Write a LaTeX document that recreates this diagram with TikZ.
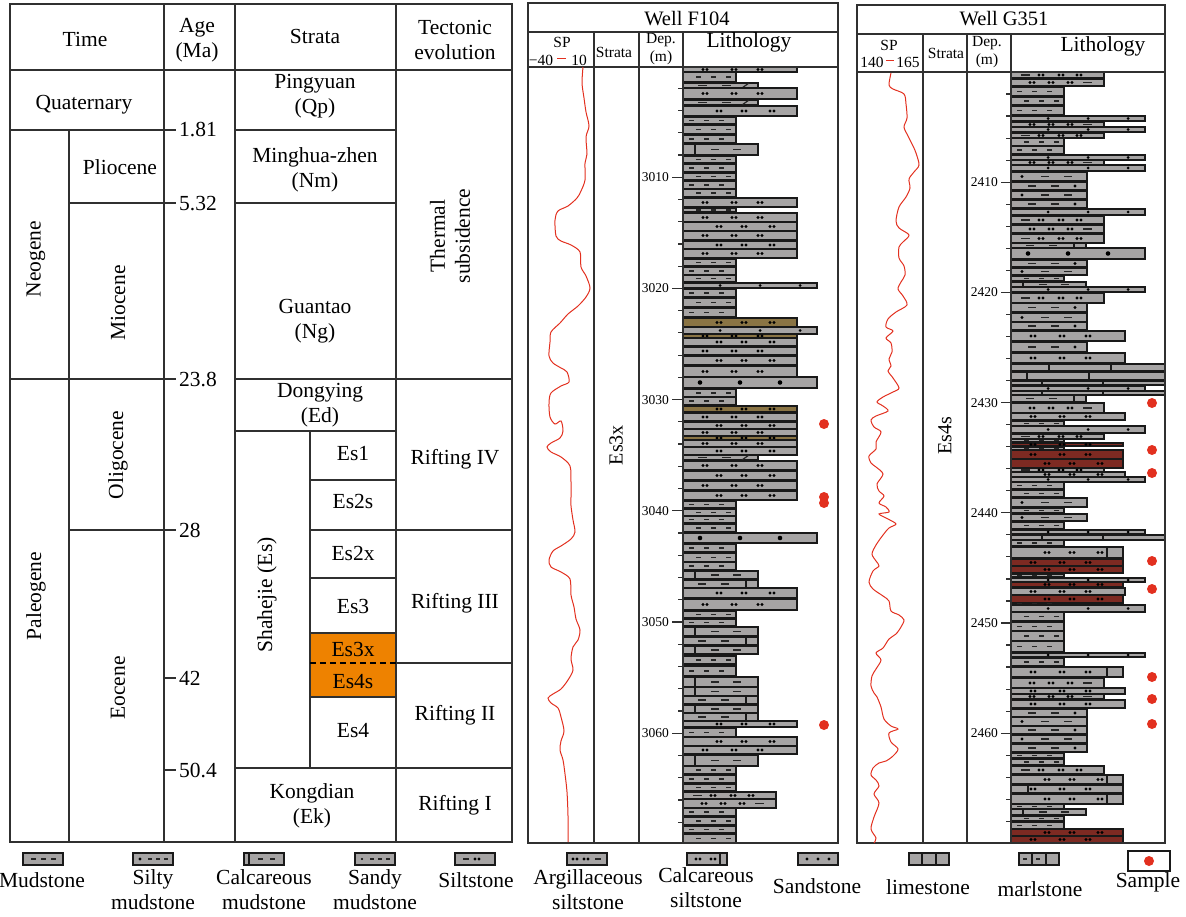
\documentclass[tikz,border=0pt]{standalone}
\usepackage{fontspec}
\setmainfont{Liberation Serif}
\definecolor{lg}{HTML}{A6A4A4}
\definecolor{brn}{HTML}{8A7444}
\definecolor{rdb}{HTML}{7D2A22}
\definecolor{orng}{HTML}{EE8200}
\definecolor{spr}{HTML}{E2301F}
\definecolor{ln}{HTML}{303030}
\tikzset{
 grid/.style={draw=ln, line width=1.2pt},
 litho/.style={draw=black!90, line width=1.3pt},
 pat/.style={draw=black!85, line width=1.2pt},
 big/.style={font=\fontsize{21.5}{25}\selectfont, align=center, inner sep=0pt},
 mid/.style={font=\fontsize{15.5}{18}\selectfont, align=center, inner sep=0pt},
 sm/.style={font=\fontsize{13.5}{15}\selectfont, inner sep=0pt},
 spc/.style={draw=spr, line width=1pt},
}
\newcount\altc
\newcommand\bx[4]{\draw[litho,fill=#4] (\X,#1) rectangle ({\X+#3},#2);}
\newcommand\dsh[3]{\draw[pat] ({\X+#1},#3) -- ({\X+#1+#2},#3);}
\newcommand\dpair[2]{\fill ({\X+#1},#2) circle (1.6) ({\X+#1+4},#2) circle (1.6);}
\newcommand\vl[3]{\draw[litho] ({\X+#1},#2) -- ({\X+#1},#3);}
\newcommand\ymid[2]{\pgfmathsetmacro\ym{(#1+#2)/2}}
\newcommand\LMu[2]{\global\advance\altc by 1 \ymid{#1}{#2}\bx{#1}{#2}{53}{lg}%
 \ifodd\altc \dsh{6}{5}{\ym}\dsh{21}{5}{\ym}\dsh{36}{5}{\ym}\else\dsh{13}{5}{\ym}\dsh{28}{5}{\ym}\dsh{43}{5}{\ym}\fi}
\newcommand\siltpat[1]{\ifodd\altc \dpair{20}{#1}\dpair{49}{#1}\dpair{75}{#1}\else\dpair{34}{#1}\dpair{59}{#1}\dpair{87}{#1}\fi}
\newcommand\LSi[2]{\global\advance\altc by 1 \ymid{#1}{#2}\bx{#1}{#2}{114}{lg}\siltpat{\ym}}
\newcommand\LBr[2]{\global\advance\altc by 1 \ymid{#1}{#2}\bx{#1}{#2}{114}{brn}\siltpat{\ym}}
\newcommand\LRd[2]{\global\advance\altc by 1 \ymid{#1}{#2}\bx{#1}{#2}{112}{rdb}\siltpat{\ym}}
\newcommand\LQr[2]{\global\advance\altc by 1 \ymid{#1}{#2}\bx{#1}{#2}{112}{lg}\vl{96}{#1}{#2}\siltpat{\ym}}
\newcommand\LQl[2]{\global\advance\altc by 1 \ymid{#1}{#2}\bx{#1}{#2}{112}{lg}\vl{17}{#1}{#2}\siltpat{\ym}}
\newcommand\LCl[2]{\ymid{#1}{#2}\bx{#1}{#2}{75}{lg}\vl{12}{#1}{#2}\dsh{28}{8}{\ym}\dsh{50}{8}{\ym}}
\newcommand\LCr[2]{\ymid{#1}{#2}\bx{#1}{#2}{75}{lg}\vl{63}{#1}{#2}\dsh{15}{8}{\ym}\dsh{38}{8}{\ym}}
\newcommand\LTc[2]{\ymid{#1}{#2}\bx{#1}{#2}{75}{lg}\dsh{15}{9}{\ym}\dsh{39}{9}{\ym}\draw[pat] ({\X+59},#2) -- ({\X+66},#1);}
\newcommand\LSd[2]{\pgfmathtruncatemacro\hh{#2-#1}\ymid{#1}{#2}\bx{#1}{#2}{134}{lg}%
 \ifnum\hh>8 \fill ({\X+17},\ym) circle (2.3) ({\X+57},\ym) circle (2.3) ({\X+97},\ym) circle (2.3);%
 \else \fill ({\X+37},\ym) circle (1.5) ({\X+77},\ym) circle (1.5) ({\X+117},\ym) circle (1.5);\fi}
\newcommand\LAr[2]{\global\advance\altc by 1 \ymid{#1}{#2}\bx{#1}{#2}{93}{lg}%
 \ifodd\altc \dsh{10}{9}{\ym}\dpair{28}{\ym}\dpair{48}{\ym}\dpair{66}{\ym}\else\dpair{19}{\ym}\dpair{38}{\ym}\dpair{57}{\ym}\dsh{72}{9}{\ym}\fi}
\newcommand\LSm[2]{\global\advance\altc by 1 \ymid{#1}{#2}\bx{#1}{#2}{76}{lg}%
 \ifodd\altc \fill ({\X+11},\ym) circle (1.6); \dsh{30}{8}{\ym}\dsh{53}{8}{\ym}\else\dsh{17}{8}{\ym}\dsh{40}{8}{\ym}\fill ({\X+64},\ym) circle (1.6);\fi}
\newcommand\LLiA[2]{\bx{#1}{#2}{154}{lg}\vl{38}{#1}{#2}\vl{100}{#1}{#2}}
\newcommand\LLiB[2]{\bx{#1}{#2}{154}{lg}\vl{16}{#1}{#2}\vl{78}{#1}{#2}}
\newcommand\LLiC[2]{\bx{#1}{#2}{154}{lg}\vl{31}{#1}{#2}\vl{92}{#1}{#2}}
\begin{document}
\begin{tikzpicture}[x=1pt,y=-1pt]
\useasboundingbox (0,0) rectangle (1186,917);
% ---------------- left table
\fill[orng] (310,633) rectangle (396,697);
\draw[grid] (10,4) rectangle (512,842);
\draw[grid] (10,70) -- (512,70);
\draw[grid] (164,4) -- (164,842);
\draw[grid] (235,4) -- (235,842);
\draw[grid] (396,4) -- (396,842);
\draw[grid] (69,130) -- (69,842);
\draw[grid] (10,130) -- (176,130);
\draw[grid] (69,203) -- (176,203);
\draw[grid] (10,379) -- (176,379);
\draw[grid] (69,530) -- (176,530);
\draw[grid] (164,678) -- (176,678);
\draw[grid] (164,770) -- (176,770);
\draw[grid] (235,130) -- (396,130);
\draw[grid] (235,203) -- (396,203);
\draw[grid] (235,379) -- (512,379);
\draw[grid] (235,431) -- (396,431);
\draw[grid] (310,431) -- (310,768);
\draw[grid] (310,480) -- (396,480);
\draw[grid] (310,530) -- (512,530);
\draw[grid] (310,578) -- (396,578);
\draw[grid] (310,633) rectangle (396,697);
\draw[black, line width=2.6pt, dash pattern=on 6pt off 4pt] (310,663) -- (396,663);
\draw[grid] (396,663) -- (512,663);
\draw[grid] (235,768) -- (512,768);
\node[big] (hTime) at (85,39) {Time};
\node[big] (hAge) at (197,40) {Age\\(Ma)};
\node[big] (hStrata) at (315,36) {Strata};
\node[big] (hTect) at (455,40) {Tectonic\\evolution};
\node[big] (quat) at (84,105) {Quaternary};
\node[big,rotate=90] (neog) at (36,259) {Neogene};
\node[big] (plio) at (120,167) {Pliocene};
\node[big,rotate=90] (mio) at (118,303) {Miocene};
\node[big,rotate=90] (paleo) at (36,596) {Paleogene};
\node[big,rotate=90] (oligo) at (118,455) {Oligocene};
\node[big,rotate=90] (eoc) at (118,688) {Eocene};
\node[big,anchor=west] (a1) at (179,130) {1.81};
\node[big,anchor=west] (a2) at (179,204) {5.32};
\node[big,anchor=west] (a3) at (179,380) {23.8};
\node[big,anchor=west] (a4) at (179,530) {28};
\node[big,anchor=west] (a5) at (179,678) {42};
\node[big,anchor=west] (a6) at (179,770) {50.4};
\node[big] (sQp) at (315,96) {Pingyuan\\(Qp)};
\node[big] (sNm) at (315,170) {Minghua-zhen\\(Nm)};
\node[big] (sNg) at (315,321) {Guantao\\(Ng)};
\node[big] (sEd) at (320,405) {Dongying\\(Ed)};
\node[big,rotate=90] (sEs) at (267,595) {Shahejie (Es)};
\node[big] (e1) at (353,454) {Es1};
\node[big] (e2s) at (353,501) {Es2s};
\node[big] (e2x) at (353,553) {Es2x};
\node[big] (e3) at (353,606) {Es3};
\node[big] (e3x) at (353,649) {Es3x};
\node[big] (e4s) at (353,682) {Es4s};
\node[big] (e4) at (353,731) {Es4};
\node[big] (sEk) at (312,806) {Kongdian\\(Ek)};
\node[big,rotate=90] (therm) at (450,236) {Thermal\\subsidence};
\node[big] (r4) at (455,459) {Rifting IV};
\node[big] (r3) at (455,603) {Rifting III};
\node[big] (r2) at (455,715) {Rifting II};
\node[big] (r1) at (455,805) {Rifting I};
% ---------------- Well F104
\def\X{683}
\foreach \a/\b/\t in {67/72/Si,72/82/Mu,83/88/Tc,88/99/Si,100/105/Tc,106/116/Si,117/124/Mu,125/134/Mu,135/143/Mu,144/155/Cl,156/163/Mu,164/172/Mu,173/180/Mu,181/189/Mu,189/197/Mu,198/207/Si,208/212/Mu,213/222/Si,222/231/Si,231/240/Si,241/249/Si,249/258/Si,259/266/Mu,267/275/Mu,275/282/Mu,283/288/Sd,289/297/Mu,298/307/Mu,308/317/Mu,318/327/Br,327/334/Sd,334/338/Br,338/346/Si,347/355/Si,356/365/Si,366/377/Si,377/388/Sd,389/397/Mu,397/405/Mu,406/412/Br,413/421/Si,422/429/Si,429/436/Si,436/440/Br,440/447/Si,447/455/Si,455/460/Tc,461/470/Si,471/480/Si,481/490/Si,491/500/Si,501/508/Mu,509/516/Mu,516/523/Mu,524/532/Mu,533/543/Sd,544/552/Mu,553/562/Mu,562/570/Mu,571/579/Cl,580/588/Cr,588/598/Si,599/610/Si,611/618/Mu,619/626/Mu,627/636/Cl,637/645/Cr,646/654/Cl,656/664/Mu,666/676/Mu,677/687/Cl,687/696/Cl,696/704/Cr,705/713/Cl,713/721/Cr,721/727/Si,728/737/Mu,737/746/Si,746/754/Si,755/766/Cl,766/774/Mu,775/783/Mu,784/791/Mu,792/799/Ar,799/808/Ar,808/816/Mu,817/825/Mu,826/833/Mu,834/843/Mu}{\csname L\t\endcsname{\a}{\b}}
\draw[grid] (528,3) rectangle (838,843);
\draw[grid] (528,32) -- (838,32);
\draw[grid] (528,67) -- (838,67);
\draw[grid] (594,32) -- (594,843);
\draw[grid] (639,32) -- (639,843);
\draw[grid] (683,32) -- (683,843);
\foreach \j in {1,...,34}{
 \pgfmathsetmacro\yy{66+22.24*\j}\pgfmathtruncatemacro\m{mod(\j,5)}
 \ifnum\m=0 \draw[grid] (672,\yy) -- (683,\yy);
  \node[sm,anchor=east] (fd\j) at (669,\yy) {\the\numexpr3000+2*\j\relax};
 \else \draw[grid] (678,\yy) -- (683,\yy); \fi}
\node[big,font=\fontsize{20.5}{24}\selectfont] (fT) at (687,19) {Well F104};
\node[mid] (fSP) at (562,42) {SP};
\node[mid] (fSPa) at (541,60) {−40};
\node[mid] (fSPb) at (579,60) {10};
\draw[spc] (fSPa.east) ++(4,-1) coordinate (fsa) -- ++(9,0) coordinate (fsb);
\node[mid] (fStr) at (614,52) {Strata};
\node[mid] (fDep) at (661,49) {Dep.\\(m)};
\node[big] (fLith) at (749,42) {Lithology};
\node[big,font=\fontsize{20}{24}\selectfont,rotate=90] (fEs) at (616,445) {Es3x};
\draw[spc] plot[smooth] coordinates {(583,67) (582,83) (584,98) (586,112) (589,126) (586,137) (587,154) (585,163) (585,180) (581,191) (577,198) (568,206) (558,211) (555,220) (556,236) (561,241) (571,245) (580,252) (581,267) (586,276) (590,288) (586,297) (578,306) (568,314) (560,323) (551,332) (550,342) (549,356) (553,363) (561,368) (567,372) (569,382) (561,386) (551,393) (549,403) (550,417) (555,424) (561,421) (563,431) (560,438) (551,443) (547,447) (551,452) (561,457) (570,466) (571,483) (571,497) (571,506) (573,520) (575,532) (571,539) (561,546) (553,551) (549,560) (551,567) (561,572) (570,579) (571,595) (574,607) (576,619) (580,630) (578,640) (573,647) (571,659) (573,670) (568,680) (561,689) (553,694) (548,698) (551,703) (558,708) (561,717) (564,731) (561,741) (560,750) (563,760) (565,774) (567,792) (568,816) (568,842)};
\foreach \s/\yy in {1/424,2/497,3/503,4/725}{\fill[spr] (824,\yy) circle (5) coordinate (fs\s);}
% ---------------- Well G351
\def\X{1011}
\foreach \a/\b/\t in {72/78/Ar,79/86/Ar,87/96/Mu,97/105/Mu,106/115/Mu,116/121/Sd,122/127/Ar,127/132/Sd,133/138/Ar,138/146/Mu,146/154/Mu,155/160/Sd,160/165/Ar,165/171/Sd,172/181/Sm,182/190/Sm,191/199/Sm,200/208/Sm,209/215/Sd,216/224/Ar,225/233/Ar,234/243/Ar,243/248/Cr,248/259/Sd,260/267/Sm,268/275/Sm,276/281/Mu,282/287/Cl,287/292/Sd,293/303/Ar,303/312/Sm,313/322/Sm,322/330/Sm,331/341/Si,342/352/Sm,353/363/Si,364/371/LiA,372/380/LiB,381/385/LiC,386/391/Sd,391/395/LiC,395/402/Cr,403/413/Ar,413/420/Si,421/426/Mu,426/433/Sd,434/439/Ar,439/442/Mu,443/446/Rd,447/450/Mu,450/459/Rd,459/468/Rd,468/472/Ar,472/477/Si,477/482/Sd,482/489/Mu,490/497/Mu,498/507/Sm,508/513/Mu,514/521/Sm,522/529/Mu,530/534/Sd,535/540/LiC,540/546/Mu,547/558/Qr,559/566/Rd,566/573/Rd,574/577/Mu,578/582/Sd,582/587/Rd,588/595/Si,595/603/Rd,603/605/Mu,605/612/Sd,612/621/Mu,622/631/Mu,631/641/Mu,641/652/Mu,653/657/Sd,658/666/Mu,667/677/Qr,678/688/Ar,688/694/Si,694/699/Ar,700/708/Si,709/717/Sm,717/726/Sm,726/734/Sm,735/743/Sm,744/752/Sm,753/758/Mu,759/765/Mu,766/774/Ar,775/784/Qr,785/793/Ql,794/804/Qr,804/809/Mu,809/815/Cl,816/821/Mu,822/829/Mu,829/836/Rd,836/843/Rd}{\csname L\t\endcsname{\a}{\b}}
\draw[grid] (857,5) rectangle (1165,843);
\draw[grid] (857,34) -- (1165,34);
\draw[grid] (857,72) -- (1165,72);
\draw[grid] (923,34) -- (923,843);
\draw[grid] (967,34) -- (967,843);
\draw[grid] (1011,34) -- (1011,843);
\foreach \j in {1,...,34}{
 \pgfmathsetmacro\yy{72+22.04*\j}\pgfmathtruncatemacro\m{mod(\j,5)}
 \ifnum\m=0 \draw[grid] (1001,\yy) -- (1011,\yy);
  \node[sm,anchor=east] (gd\j) at (998,\yy) {\the\numexpr2400+2*\j\relax};
 \else \draw[grid] (1006,\yy) -- (1011,\yy); \fi}
\node[big,font=\fontsize{20.5}{24}\selectfont] (gT) at (1004,19) {Well G351};
\node[mid] (gSP) at (889,45) {SP};
\node[mid] (gSPa) at (872,62) {140};
\node[mid] (gSPb) at (908,62) {165};
\draw[spc] (gSPa.east) ++(2,-1) coordinate (gsa) -- ++(8,0) coordinate (gsb);
\node[mid] (gStr) at (946,53) {Strata};
\node[mid] (gDep) at (987,52) {Dep.\\(m)};
\node[big] (gLith) at (1103,46) {Lithology};
\node[big,font=\fontsize{20}{24}\selectfont,rotate=90] (gEs) at (945,436) {Es4s};
\draw[spc] plot[smooth] coordinates {(891,73) (889,85) (893,89) (904,94) (906,104) (907,118) (904,127) (908,136) (913,146) (916,153) (919,165) (914,172) (909,179) (910,188) (906,197) (899,207) (896,221) (899,228) (909,235) (903,242) (899,247) (899,258) (904,266) (905,275) (901,282) (898,289) (903,296) (907,305) (896,312) (888,319) (886,327) (893,331) (886,338) (891,343) (892,352) (889,359) (891,366) (888,371) (893,378) (899,388) (893,392) (883,397) (877,402) (883,406) (888,411) (876,416) (871,420) (874,427) (881,432) (876,442) (876,449) (869,456) (871,463) (876,467) (883,474) (877,484) (879,491) (884,496) (879,503) (886,507) (889,512) (879,514) (888,519) (896,524) (889,528) (883,535) (876,545) (872,554) (876,561) (879,566) (873,571) (869,582) (873,589) (883,596) (889,601) (891,611) (899,615) (904,620) (901,627) (896,634) (889,639) (883,648) (876,653) (881,660) (876,669) (872,676) (871,686) (874,693) (877,697) (881,707) (884,719) (891,726) (898,729) (889,733) (891,742) (898,749) (893,756) (886,761) (879,763) (873,768) (871,775) (876,780) (879,786) (874,794) (879,803) (874,817) (871,829) (876,838) (874,843)};
\foreach \s/\yy in {1/403,2/450,3/473,4/561,5/589,6/677,7/699,8/724}{\fill[spr] (1152,\yy) circle (5) coordinate (gs\s);}
% ---------------- legend
\def\LY{853}
\def\X{23}\draw[litho,fill=lg] (\X,\LY) rectangle ++(40,12); \dsh{8}{5}{859}\dsh{18}{5}{859}\dsh{28}{5}{859}
\def\X{133}\draw[litho,fill=lg] (\X,\LY) rectangle ++(40,12); \fill ({\X+7},859) circle (1.6); \dsh{15}{4}{859}\dsh{23}{4}{859}\dsh{31}{4}{859}
\def\X{244}\draw[litho,fill=lg] (\X,\LY) rectangle ++(40,12); \vl{5}{\LY}{865}\dsh{14}{5}{859}\dsh{26}{5}{859}
\def\X{355}\draw[litho,fill=lg] (\X,\LY) rectangle ++(40,12); \fill ({\X+7},859) circle (1.2); \dsh{15}{4}{859}\dsh{23}{4}{859}\dsh{31}{4}{859}
\def\X{455}\draw[litho,fill=lg] (\X,\LY) rectangle ++(40,12); \dsh{8}{6}{859}\dpair{20}{859}
\def\X{567}\draw[litho,fill=lg] (\X,\LY) rectangle ++(40,12); \dpair{6}{859}\dpair{17}{859}\dsh{28}{6}{859}
\def\X{687}\draw[litho,fill=lg] (\X,\LY) rectangle ++(40,12); \dpair{9}{859}\dpair{24}{859}\vl{33}{\LY}{865}
\def\X{798}\draw[litho,fill=lg] (\X,\LY) rectangle ++(40,12); \fill ({\X+9},859) circle (1.6) ({\X+20},859) circle (1.6) ({\X+31},859) circle (1.6);
\def\X{909}\draw[litho,fill=lg] (\X,\LY) rectangle ++(40,12); \vl{13}{\LY}{865}\vl{27}{\LY}{865}
\def\X{1019}\draw[litho,fill=lg] (\X,\LY) rectangle ++(40,12); \vl{13}{\LY}{865}\vl{27}{\LY}{865}\dsh{4}{4}{859}\dsh{17}{4}{859}
\draw[litho,fill=white] (1128,851) rectangle (1170,871);
\fill[spr] (1149,861) circle (5) coordinate (legS);
\node[big] (l1) at (42,880) {Mudstone};
\node[big,anchor=north] (l2) at (153,869) {Silty\\mudstone};
\node[big,anchor=north] (l3) at (264,869) {Calcareous\\mudstone};
\node[big,anchor=north] (l4) at (375,869) {Sandy\\mudstone};
\node[big] (l5) at (476,880) {Siltstone};
\node[big,anchor=north] (l6) at (588,869) {Argillaceous\\siltstone};
\node[big,anchor=north] (l7) at (706,867) {Calcareous\\siltstone};
\node[big] (l8) at (817,886) {Sandstone};
\node[big] (l9) at (928,887) {limestone};
\node[big] (l10) at (1040,889) {marlstone};
\node[big] (l11) at (1148,882) {Sample};
\end{tikzpicture}
\end{document}
